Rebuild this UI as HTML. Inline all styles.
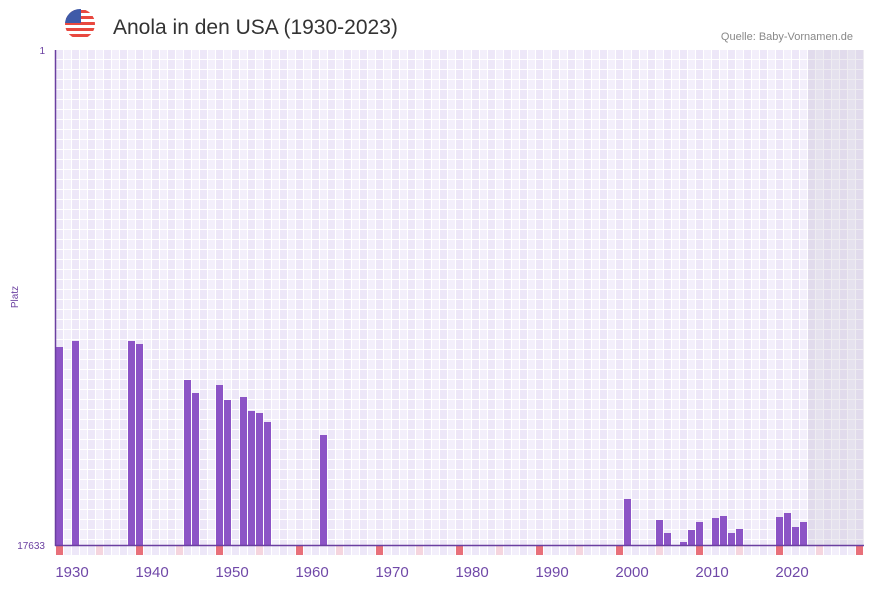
<!DOCTYPE html>
<html><head><meta charset="utf-8"><style>
body{margin:0;background:#fff;width:873px;height:587px;overflow:hidden;font-family:"Liberation Sans",sans-serif}
</style></head><body>
<svg width="873" height="587" xmlns="http://www.w3.org/2000/svg">
<defs>
<pattern id="g" x="56" y="50" width="16" height="10" patternUnits="userSpaceOnUse">
<rect width="16" height="10" fill="#fff"/>
<rect x="0" y="0" width="7" height="9" fill="#ede7f8"/>
<rect x="8" y="0" width="7" height="9" fill="#f3effb"/>
</pattern>
<clipPath id="fc"><circle cx="80" cy="24" r="15"/></clipPath>
</defs>
<rect x="56" y="50" width="808" height="495" fill="url(#g)"/>
<rect x="808" y="50" width="56" height="495" fill="#c8c0d0" opacity="0.3"/>
<g clip-path="url(#fc)">
<rect x="64" y="8" width="32" height="32" fill="#fff"/>
<g fill="#e8483f"><rect x="64" y="10" width="32" height="3"/><rect x="64" y="16" width="32" height="3"/><rect x="64" y="22" width="32" height="3"/><rect x="64" y="28" width="32" height="3"/><rect x="64" y="34" width="32" height="3"/></g>
<rect x="64" y="8" width="17" height="15" fill="#3f5aa8"/>
</g>
<text x="113" y="34" font-size="21" fill="#333">Anola in den USA (1930-2023)</text>
<text x="853" y="40" font-size="11" fill="#888" text-anchor="end">Quelle: Baby-Vornamen.de</text>
<text x="45" y="54" font-size="10" fill="#6a3fa0" text-anchor="end">1</text>
<text x="45" y="549" font-size="10" fill="#6a3fa0" text-anchor="end">17633</text>
<text transform="translate(18,297) rotate(-90)" font-size="10" fill="#6a3fa0" text-anchor="middle">Platz</text>
<g id="bars" fill="#8c54c6"></g>
<g id="marks"></g>
<line x1="55.5" y1="50" x2="55.5" y2="546" stroke="#6a3fa0" stroke-width="1.5"/>
<line x1="55" y1="545.5" x2="864" y2="545.5" stroke="#6a3fa0" stroke-width="1.5"/>
<g font-size="15" fill="#7048a8" text-anchor="middle" id="lbl"></g>
</svg>
<script>
var ns="http://www.w3.org/2000/svg";
var d=[[0,347],[2,341],[9,341],[10,344],[16,380],[17,393],[20,385],[21,400],[23,397],[24,411],[25,413],[26,422],[33,435],[71,499],[75,520],[76,533],[78,542],[79,530],[80,522],[82,518],[83,516],[84,533],[85,529],[90,517],[91,513],[92,527],[93,522]];
var b=document.getElementById('bars');
d.forEach(function(p){var r=document.createElementNS(ns,'rect');r.setAttribute('x',56+p[0]*8);r.setAttribute('y',p[1]);r.setAttribute('width',7);r.setAttribute('height',545-p[1]);b.appendChild(r);});
var m=document.getElementById('marks');
for(var s=0;s<=100;s++){var r=document.createElementNS(ns,'rect');r.setAttribute('x',56+s*8);r.setAttribute('y',546);r.setAttribute('width',7);r.setAttribute('height',9);
r.setAttribute('fill',s%10==0?'#e8707a':(s%5==0?'#f5d5de':(s%2?'#f3effb':'#ede7f8')));m.appendChild(r);}
var l=document.getElementById('lbl');
for(var i=0;i<10;i++){var t=document.createElementNS(ns,'text');t.setAttribute('x',72+i*80);t.setAttribute('y',577);t.textContent=1930+i*10;l.appendChild(t);}
</script>
</body></html>
